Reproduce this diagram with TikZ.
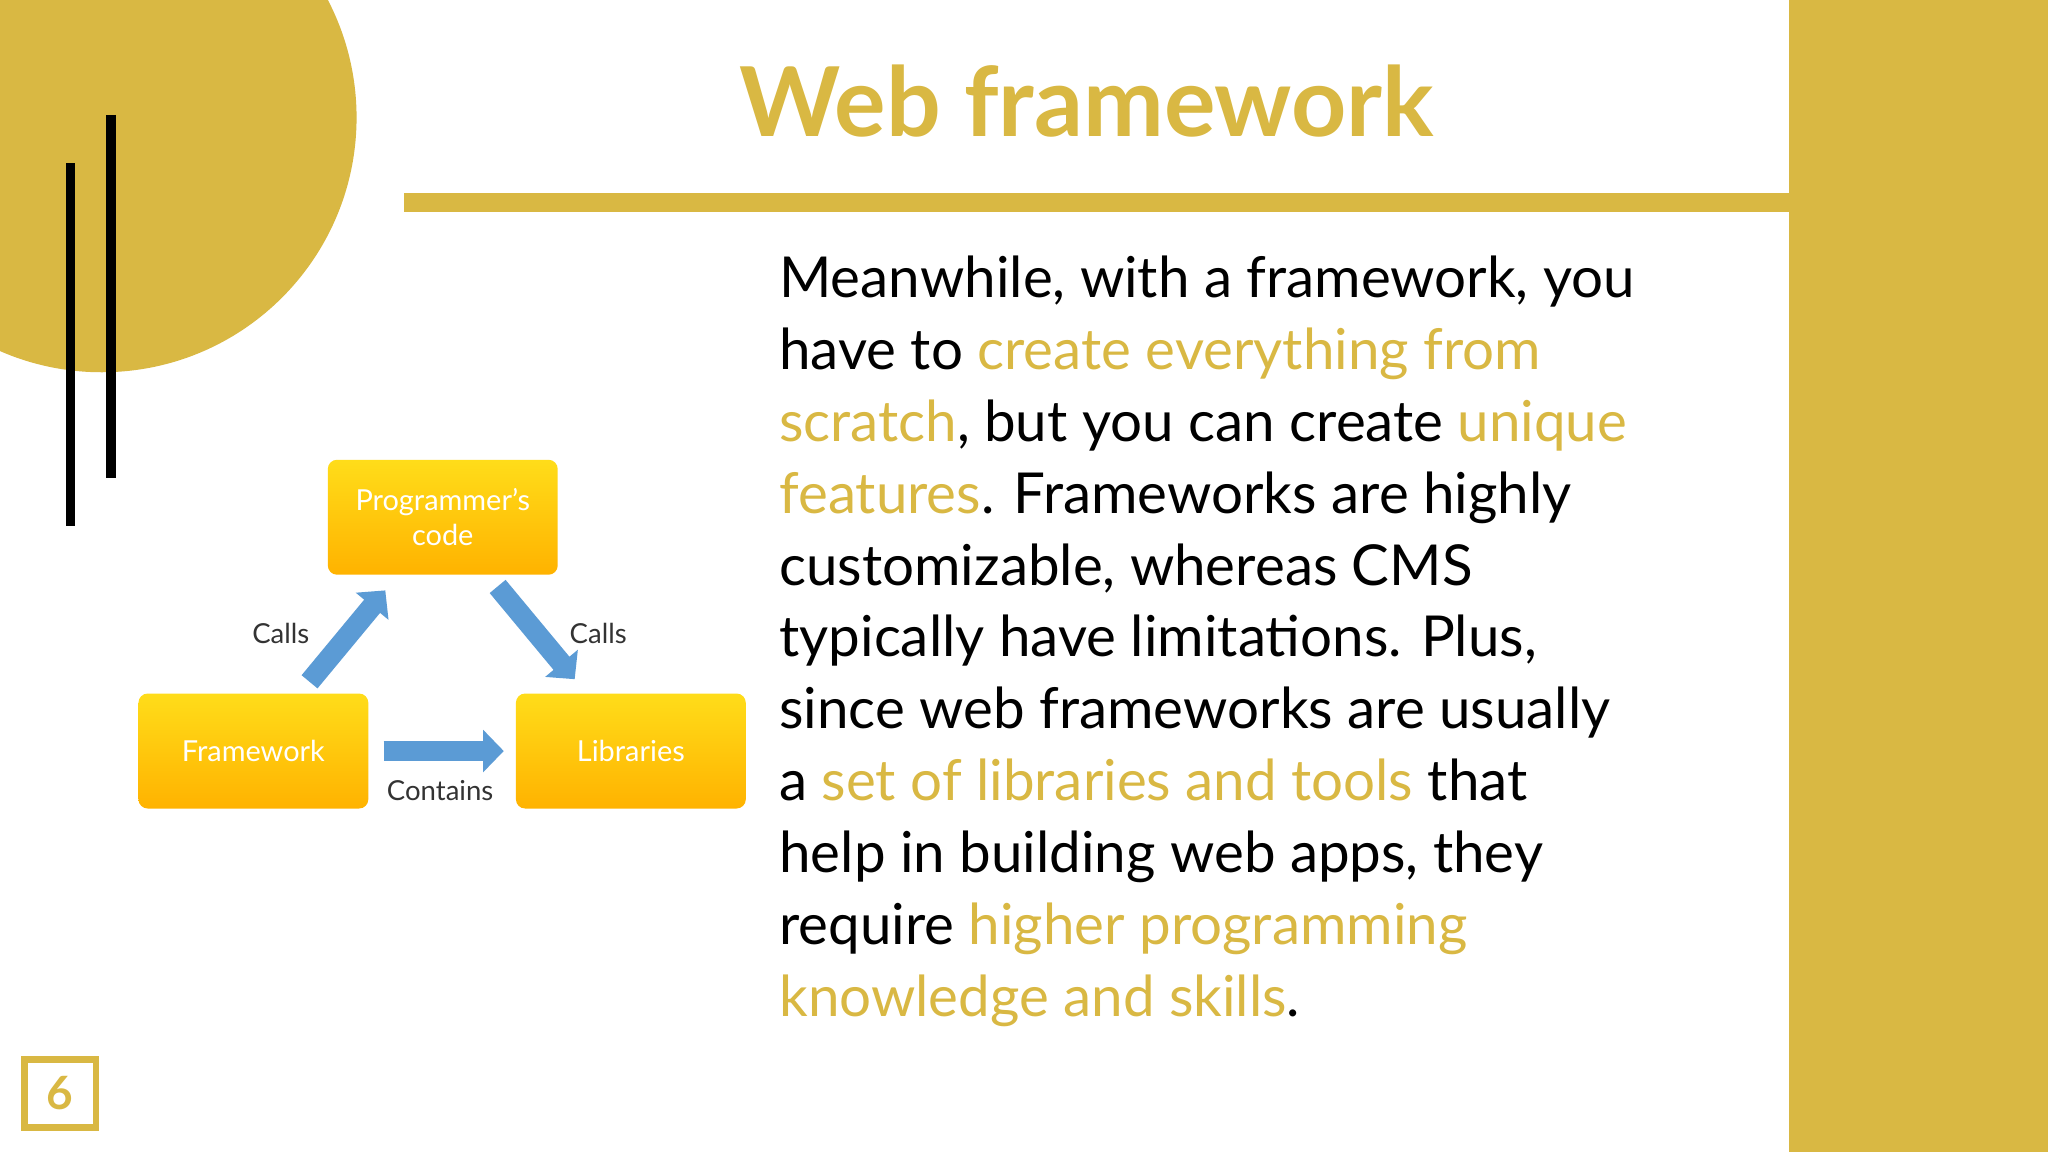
\documentclass[tikz,border=0pt]{standalone}
\usepackage{fontspec}
\setmainfont{Lato}
\usetikzlibrary{arrows.meta}
\definecolor{gold}{HTML}{D9B843}
\definecolor{arrowblue}{HTML}{5B9BD5}
\begin{document}
\begin{tikzpicture}[x=0.1mm,y=-0.1mm,
  body/.style={anchor=base west,inner sep=0,font=\fontsize{12.3}{14}\selectfont},
  ybox/.style={rounded corners=2pt,top color=yellow!70!orange!90,bottom color=orange!60!yellow,draw=none,
     minimum width=17.6mm,minimum height=8.8mm,text=white,font=\fontsize{6.3}{7.5}\selectfont,align=center},
  blarrow/.style={-{Triangle[length=4.5pt,width=9pt]},line width=4.5pt,draw=arrowblue},
  lbl/.style={font=\fontsize{6}{7}\selectfont,text=black!80}]
\useasboundingbox (0,0) rectangle (1568,882);
\fill[white] (0,0) rectangle (1568,882);
\fill[gold] (1370,0) rectangle (1568,882);
\begin{scope}
\clip (0,0) rectangle (1568,882);
\fill[gold] (78,90) circle[radius=195];
\end{scope}
\draw[line width=2pt] (54,125) -- (54,403);
\draw[line width=2pt] (85,88) -- (85,366);
\fill[gold] (309,148) rectangle (1370,162);
\node[text=gold,font=\fontsize{21}{24}\bfseries\selectfont] (title) at (832,77) {Web framework};
\node[body] (l1) at (596,228) {Meanwhile, with a framework, you};
\node[body] (l2) at (596,283) {have to \textcolor{gold}{create everything from}};
\node[body] (l3) at (596,338) {\textcolor{gold}{scratch}, but you can create \textcolor{gold}{unique}};
\node[body] (l4) at (596,393) {\textcolor{gold}{features}. Frameworks are highly};
\node[body] (l5) at (596,448) {customizable, whereas CMS};
\node[body] (l6) at (596,503) {typically have limitations. Plus,};
\node[body] (l7) at (596,558) {since web frameworks are usually};
\node[body] (l8) at (596,613) {a \textcolor{gold}{set of libraries and tools} that};
\node[body] (l9) at (596,668) {help in building web apps, they};
\node[body] (l10) at (596,723) {require \textcolor{gold}{higher programming}};
\node[body] (l11) at (596,778) {\textcolor{gold}{knowledge and skills}.};
\node[draw=gold,line width=1.5pt,minimum width=5.5mm,minimum height=5.2mm,text=gold,font=\bfseries\fontsize{10}{12}\selectfont] (pg) at (46,837) {6};
\node[ybox] (prog) at (339,396) {Programmer’s\\code};
\node[ybox] (fw) at (194,575) {Framework};
\node[ybox] (lib) at (483,575) {Libraries};
\draw[blarrow] (237,522) -- (295,452);
\draw[blarrow] (381,449) -- (440,520);
\draw[blarrow] (fw.east) ++(11,0) coordinate (a1) -- ++(92,0) coordinate (a2);
\node[lbl] (c1) at (215,485) {Calls};
\node[lbl] (c2) at (458,485) {Calls};
\node[lbl] (c3) at (337,605) {Contains};
\end{tikzpicture}
\end{document}
